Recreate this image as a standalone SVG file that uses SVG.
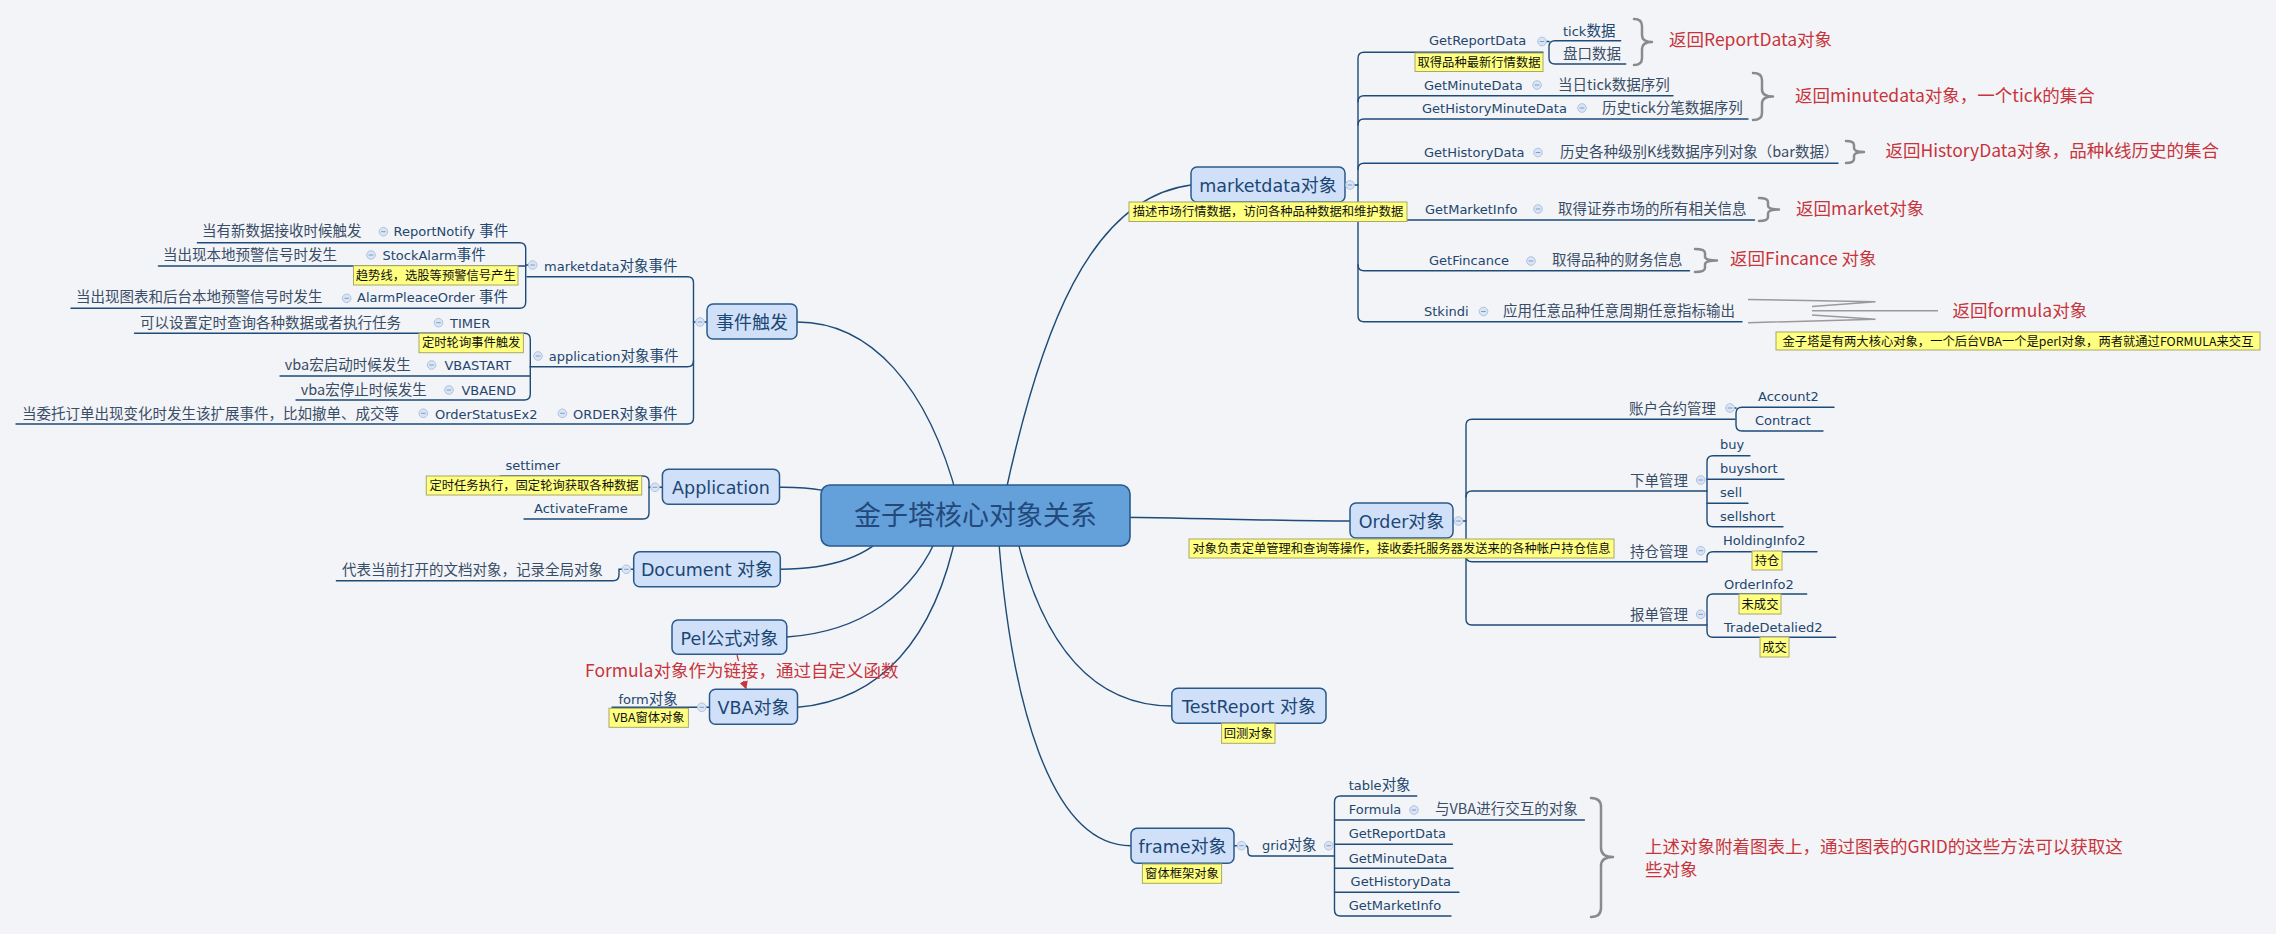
<svg xmlns="http://www.w3.org/2000/svg" width="2276" height="934" viewBox="0 0 2276 934">
<style>
.bg{fill:#f2f4f7}
.ln{fill:none;stroke:#1e4b78;stroke-width:1.4;stroke-linecap:round}
.box{fill:#cfe0f8;stroke:#2a5a8c;stroke-width:1.5}
.ctr{fill:#64a0da;stroke:#2a5a8c;stroke-width:1.6}
.m{font-family:"DejaVu Sans","Noto Sans CJK SC",sans-serif;font-size:13px;fill:#24466e}
.c{font-family:"Noto Sans CJK SC",sans-serif;font-size:14.5px}
.d{font-family:"Noto Sans CJK SC",sans-serif;font-size:14.5px;fill:#3a4d66}
.nt{font-family:"DejaVu Sans","Noto Sans CJK SC",sans-serif;font-size:17.5px;fill:#1c4674;text-anchor:middle}
.nc{font-family:"Noto Sans CJK SC",sans-serif;font-size:18px}
.title{font-family:"Noto Sans CJK SC",sans-serif;font-size:27px;fill:#23497a;text-anchor:middle}
.r{font-family:"Noto Sans CJK SC",sans-serif;font-size:17.5px;fill:#c8343c}
.yn{fill:#ffff80;stroke:#a8a86a;stroke-width:1}
.yt{font-family:"Noto Sans CJK SC",sans-serif;font-size:12.3px;fill:#111;text-anchor:middle}
.br{fill:none;stroke:#8a8a8a;stroke-width:2.5;stroke-linecap:round;stroke-linejoin:round}
.sq{fill:none;stroke:#9a9a9a;stroke-width:1.5}
.rl{fill:none;stroke:#c8343c;stroke-width:1.2}
</style>
<defs>
<g id="col"><circle r="4.3" fill="#d9e5f5" stroke="#aec3e0" stroke-width="1"/><path d="M-2.3 0H2.3" stroke="#7f9cc6" stroke-width="1"/></g>
<marker id="arr" viewBox="0 0 10 10" refX="8" refY="5" markerWidth="7" markerHeight="7" orient="auto"><path d="M0,0 L10,5 L0,10 z" fill="#c8343c"/></marker>
</defs>
<rect class="bg" x="0" y="0" width="2276" height="934"/>

<g id="connectors">
<!-- central to main topics -->
<path class="ln" d="M797,322 C870,322 928,385 958,500"/>
<path class="ln" d="M1004,500 C1040,330 1090,198 1191,185"/>
<path class="ln" d="M779.5,487.3 C810,487 835,490 870,505"/>
<path class="ln" d="M780.3,569.3 C835,569 870,555 890,530"/>
<path class="ln" d="M786.8,637 C860,632 915,595 940,530"/>
<path class="ln" d="M797.5,707.3 C880,700 935,640 957,530"/>
<path class="ln" d="M1131,845.7 C1050,846 1010,700 998,530"/>
<path class="ln" d="M1171.8,706 C1090,706 1040,640 1015,530"/>
<path class="ln" d="M1100,517 C1200,518 1280,521 1350,521"/>

<!-- events subtree -->
<path class="ln" d="M707,322 H704.3 M695.7,322 H693.5"/>
<path class="ln" d="M527,276.7 H687.5 Q693.5,276.7 693.5,282.7 V418 Q693.5,424 687.5,424 H16"/>
<path class="ln" d="M693.5,360.7 Q693.5,366.7 687.5,366.7 H530"/>
<path class="ln" d="M197.4,242.7 H519.7 Q525.7,242.7 525.7,248.7 V302.3 Q525.7,308.3 519.7,308.3 H71"/>
<path class="ln" d="M525.7,266 H158.4 M525.7,265 H528.3"/>
<path class="ln" d="M134.5,333.3 H524.3 Q530.3,333.3 530.3,339.3 V394 Q530.3,400 524.3,400 H296"/>
<path class="ln" d="M530.3,376 H280"/>

<!-- application -->
<path class="ln" d="M662.4,487.3 H659.3 M650.7,487.3 H649"/>
<path class="ln" d="M500,476 H643 Q649,476 649,482 V513 Q649,519 643,519 H524"/>
<!-- document -->
<path class="ln" d="M633.7,569.3 H630.7"/>
<path class="ln" d="M336.4,580.7 H613 Q619,580.7 619,574.7 V569.3 H622.1"/>
<!-- vba -->
<path class="ln" d="M709.5,707.3 H706.1 M697.5,707.3 H612"/>

<!-- marketdata subtree -->
<path class="ln" d="M1345,185 H1345.7 M1354.3,185 H1358"/>
<path class="ln" d="M1543,52.3 H1364 Q1358,52.3 1358,58.3 V315.7 Q1358,321.7 1364,321.7 H1742"/>
<path class="ln" d="M1358,101.7 Q1358,95.7 1364,95.7 H1673"/>
<path class="ln" d="M1358,125 Q1358,119 1364,119 H1748"/>
<path class="ln" d="M1358,169.3 Q1358,163.3 1364,163.3 H1838"/>
<path class="ln" d="M1358,214 Q1358,220 1364,220 H1754.5"/>
<path class="ln" d="M1358,264.7 Q1358,270.7 1364,270.7 H1689.5"/>
<path class="ln" d="M1546.3,41.5 H1549 M1620.7,40.7 H1555 Q1549,40.7 1549,46.7 V58 Q1549,64 1555,64 H1625.7"/>

<!-- order subtree -->
<path class="ln" d="M1453,521 H1454.2 M1462.8,521 H1466"/>
<path class="ln" d="M1735,419.3 H1472 Q1466,419.3 1466,425.3 V619 Q1466,625 1472,625 H1707"/>
<path class="ln" d="M1466,497 Q1466,491 1472,491 H1707"/>
<path class="ln" d="M1466,555.7 Q1466,561.7 1472,561.7 H1707"/>
<path class="ln" d="M1734.3,408 H1736 M1834,407.3 H1742 Q1736,407.3 1736,413.3 V425 Q1736,431 1742,431 H1823"/>
<path class="ln" d="M1750,455.7 H1713 Q1707,455.7 1707,461.7 V520.7 Q1707,526.7 1713,526.7 H1783"/>
<path class="ln" d="M1707,479.3 H1784 M1707,503.3 H1748"/>
<path class="ln" d="M1707,561.7 V557.7 Q1707,551.7 1713,551.7 H1817"/>
<path class="ln" d="M1806.7,594 H1713 Q1707,594 1707,600 V631.3 Q1707,637.3 1713,637.3 H1835.7"/>

<!-- frame subtree -->
<path class="ln" d="M1234,845.7 H1237.2 M1245.8,845.7 Q1248,845.7 1248,850 V852 Q1248,856 1252,856 H1334.5"/>
<path class="ln" d="M1416.8,796 H1340.5 Q1334.5,796 1334.5,802 V910 Q1334.5,916 1340.5,916 H1451"/>
<path class="ln" d="M1334.5,820 H1584.4 M1334.5,844.3 H1452.4 M1334.5,868.3 H1453 M1334.5,892.3 H1459"/>

<!-- relationship Pel -> VBA -->
<path class="rl" d="M737,655 L738.6,661"/>
<path class="rl" d="M743.5,681 L745.8,688" marker-end="url(#arr)"/>
</g>

<g id="braces">
<path class="br" d="M1634,19 Q1642,19 1642,26 L1642,35 Q1642,42 1652,42 Q1642,42 1642,49 L1642,58 Q1642,65 1634,65"/>
<path class="br" d="M1753,73 Q1762,73 1762,80 L1762,89.5 Q1762,96.5 1773,96.5 Q1762,96.5 1762,103.5 L1762,113 Q1762,120 1753,120"/>
<path class="br" d="M1846,141 Q1854,141 1854,145 L1854,148 Q1854,152 1864,152 Q1854,152 1854,156 L1854,159 Q1854,163 1846,163"/>
<path class="br" d="M1759,198 Q1768,198 1768,202 L1768,205.5 Q1768,209.5 1779,209.5 Q1768,209.5 1768,213.5 L1768,217 Q1768,221 1759,221"/>
<path class="br" d="M1695,249 Q1705,249 1705,253 L1705,256.5 Q1705,260.5 1717,260.5 Q1705,260.5 1705,264.5 L1705,268 Q1705,272 1695,272"/>
<path class="br" d="M1591,798 Q1601,798 1601,807 L1601,848 Q1601,857 1613,857 Q1601,857 1601,866 L1601,908 Q1601,917 1591,917"/>
<path class="sq" d="M1748,299.5 L1875.5,301.8 L1812,306.5 M1812,310.7 L1938,310.7 M1812,315 L1875.5,319.3 L1748,322.7"/>
</g>

<g id="central">
<rect class="ctr" x="821" y="485" width="309" height="61" rx="9"/>
<text class="title" x="975.5" y="525">金子塔核心对象关系</text>
</g>

<g id="n-events">
<rect class="box" x="707" y="304" width="90" height="35" rx="6"/>
<text class="nt" x="752" y="328.5"><tspan class="nc">事件触发</tspan></text>
<use href="#col" x="700" y="322"/>
</g>
<g id="n-md-events">
<text class="m" x="544" y="271">marketdata<tspan class="c">对象事件</tspan></text>
<use href="#col" x="532.6" y="265"/>
</g>
<g id="n-reportnotify">
<text class="m" x="393.5" y="236">ReportNotify <tspan class="c">事件</tspan></text>
<use href="#col" x="383.4" y="231.7"/>
<text class="d" x="202" y="236">当有新数据接收时候触发</text>
</g>
<g id="n-stockalarm">
<text class="m" x="382.5" y="260">StockAlarm<tspan class="c">事件</tspan></text>
<use href="#col" x="371" y="255"/>
<text class="d" x="163" y="260">当出现本地预警信号时发生</text>
<rect class="yn" x="353.5" y="265.7" width="164.5" height="19.3"/>
<text class="yt" x="435.75" y="279.8">趋势线，选股等预警信号产生</text>
</g>
<g id="n-alarmorder">
<text class="m" x="357" y="302">AlarmPleaceOrder <tspan class="c">事件</tspan></text>
<use href="#col" x="346.7" y="298.3"/>
<text class="d" x="76" y="302">当出现图表和后台本地预警信号时发生</text>
</g>
<g id="n-app-events">
<text class="m" x="548.7" y="361">application<tspan class="c">对象事件</tspan></text>
<use href="#col" x="538" y="356"/>
</g>
<g id="n-timer">
<text class="m" x="450" y="327.5">TIMER</text>
<use href="#col" x="438.5" y="322.7"/>
<text class="d" x="140" y="327.5">可以设置定时查询各种数据或者执行任务</text>
<rect class="yn" x="419" y="333.3" width="104.4" height="19.4"/>
<text class="yt" x="471.2" y="347.4">定时轮询事件触发</text>
</g>
<g id="n-vbastart">
<text class="m" x="444.4" y="370">VBASTART</text>
<use href="#col" x="431.6" y="365"/>
<text class="d" x="284.7" y="370">vba宏启动时候发生</text>
</g>
<g id="n-vbaend">
<text class="m" x="461.4" y="394.5">VBAEND</text>
<use href="#col" x="449" y="390"/>
<text class="d" x="300.7" y="394.5">vba宏停止时候发生</text>
</g>
<g id="n-order-events">
<text class="m" x="573" y="418.5">ORDER<tspan class="c">对象事件</tspan></text>
<use href="#col" x="562.4" y="413.3"/>
<text class="m" x="435" y="418.5">OrderStatusEx2</text>
<use href="#col" x="423.3" y="413.3"/>
<text class="d" x="22" y="418.5">当委托订单出现变化时发生该扩展事件，比如撤单、成交等</text>
</g>

<g id="n-application">
<rect class="box" x="662.4" y="469.3" width="117.1" height="35" rx="6"/>
<text class="nt" x="721" y="493.5">Application</text>
<use href="#col" x="655" y="487.3"/>
<text class="m" x="505.5" y="469.5">settimer</text>
<rect class="yn" x="426.3" y="476" width="215.4" height="19"/>
<text class="yt" x="534" y="490">定时任务执行，固定轮询获取各种数据</text>
<text class="m" x="534" y="513">ActivateFrame</text>
</g>

<g id="n-document">
<rect class="box" x="633.7" y="551.7" width="146.6" height="35" rx="6"/>
<text class="nt" x="707" y="576">Document <tspan class="nc">对象</tspan></text>
<use href="#col" x="626.4" y="569.3"/>
<text class="d" x="342" y="575">代表当前打开的文档对象，记录全局对象</text>
</g>

<g id="n-pel">
<rect class="box" x="672" y="620" width="114.8" height="34.3" rx="6"/>
<text class="nt" x="729.4" y="644.5">Pel<tspan class="nc">公式对象</tspan></text>
</g>

<g id="rel-label">
<text class="r" x="585" y="677">Formula对象作为链接，通过自定义函数</text>
</g>

<g id="n-vba">
<rect class="box" x="709.5" y="689.3" width="88" height="35" rx="6"/>
<text class="nt" x="753.5" y="713.5">VBA<tspan class="nc">对象</tspan></text>
<use href="#col" x="701.8" y="707.3"/>
<text class="m" x="618.4" y="703.5">form<tspan class="c">对象</tspan></text>
<rect class="yn" x="609" y="708.3" width="79.4" height="19"/>
<text class="yt" x="648.7" y="722.3">VBA窗体对象</text>
</g>

<g id="n-marketdata">
<rect class="box" x="1191" y="167" width="154" height="35" rx="6"/>
<text class="nt" x="1268" y="191.5">marketdata<tspan class="nc">对象</tspan></text>
<use href="#col" x="1350" y="185"/>
<rect class="yn" x="1129" y="202" width="278" height="19.5"/>
<text class="yt" x="1268" y="216">描述市场行情数据，访问各种品种数据和维护数据</text>
</g>
<g id="n-getreportdata">
<text class="m" x="1429" y="45">GetReportData</text>
<use href="#col" x="1542" y="41.5"/>
<rect class="yn" x="1415" y="53" width="128" height="18.5"/>
<text class="yt" x="1479" y="66.5">取得品种最新行情数据</text>
<text class="m" x="1563" y="35.5">tick<tspan class="c">数据</tspan></text>
<text class="d" x="1563" y="59">盘口数据</text>
<text class="r" x="1669" y="46">返回ReportData对象</text>
</g>
<g id="n-getminutedata">
<text class="m" x="1424" y="89.5">GetMinuteData</text>
<use href="#col" x="1537" y="85"/>
<text class="d" x="1558" y="89.5">当日tick数据序列</text>
</g>
<g id="n-gethistoryminutedata">
<text class="m" x="1422" y="113">GetHistoryMinuteData</text>
<use href="#col" x="1582" y="108"/>
<text class="d" x="1602" y="113">历史tick分笔数据序列</text>
<text class="r" x="1795" y="102">返回minutedata对象，一个tick的集合</text>
</g>
<g id="n-gethistorydata">
<text class="m" x="1424" y="157">GetHistoryData</text>
<use href="#col" x="1538" y="152.5"/>
<text class="d" x="1560" y="157">历史各种级别K线数据序列对象（bar数据）</text>
<text class="r" x="1885.5" y="157">返回HistoryData对象，品种k线历史的集合</text>
</g>
<g id="n-getmarketinfo">
<text class="m" x="1425" y="214">GetMarketInfo</text>
<use href="#col" x="1538" y="209"/>
<text class="d" x="1558" y="214">取得证券市场的所有相关信息</text>
<text class="r" x="1796" y="215">返回market对象</text>
</g>
<g id="n-getfincance">
<text class="m" x="1429" y="265">GetFincance</text>
<use href="#col" x="1531" y="261"/>
<text class="d" x="1552" y="265">取得品种的财务信息</text>
<text class="r" x="1730" y="265">返回Fincance 对象</text>
</g>
<g id="n-stkindi">
<text class="m" x="1424" y="316">Stkindi</text>
<use href="#col" x="1483.5" y="311.5"/>
<text class="d" x="1503" y="316">应用任意品种任意周期任意指标输出</text>
<text class="r" x="1952.6" y="317">返回formula对象</text>
<rect class="yn" x="1776" y="332" width="484" height="18"/>
<text class="yt" x="2018" y="345.5">金子塔是有两大核心对象，一个后台VBA一个是perl对象，两者就通过FORMULA来交互</text>
</g>

<g id="n-order">
<rect class="box" x="1350" y="503" width="103" height="35" rx="6"/>
<text class="nt" x="1401.5" y="527.5">Order<tspan class="nc">对象</tspan></text>
<use href="#col" x="1458.5" y="521"/>
<rect class="yn" x="1189" y="539" width="425" height="19"/>
<text class="yt" x="1401.5" y="553">对象负责定单管理和查询等操作，接收委托服务器发送来的各种帐户持仓信息</text>
</g>
<g id="n-account">
<text class="d" x="1629" y="414">账户合约管理</text>
<use href="#col" x="1730" y="408"/>
<text class="m" x="1758" y="401">Account2</text>
<text class="m" x="1755" y="425">Contract</text>
</g>
<g id="n-placeorder">
<text class="d" x="1630" y="486">下单管理</text>
<use href="#col" x="1700.7" y="480"/>
<text class="m" x="1720" y="449">buy</text>
<text class="m" x="1720" y="472.5">buyshort</text>
<text class="m" x="1720" y="497">sell</text>
<text class="m" x="1720" y="521">sellshort</text>
</g>
<g id="n-holding">
<text class="d" x="1630" y="556.5">持仓管理</text>
<use href="#col" x="1700.7" y="550.7"/>
<text class="m" x="1723" y="545">HoldingInfo2</text>
<rect class="yn" x="1752" y="551" width="30" height="19"/>
<text class="yt" x="1767" y="565">持仓</text>
</g>
<g id="n-report">
<text class="d" x="1630" y="620">报单管理</text>
<use href="#col" x="1700.7" y="614.3"/>
<text class="m" x="1724" y="588.5">OrderInfo2</text>
<rect class="yn" x="1739" y="594" width="42" height="20"/>
<text class="yt" x="1760" y="608.5">未成交</text>
<text class="m" x="1724" y="631.5">TradeDetalied2</text>
<rect class="yn" x="1760" y="637" width="29" height="20"/>
<text class="yt" x="1774.5" y="651.5">成交</text>
</g>

<g id="n-testreport">
<rect class="box" x="1171.8" y="688.3" width="154.2" height="35" rx="6"/>
<text class="nt" x="1249" y="712.5">TestReport <tspan class="nc">对象</tspan></text>
<rect class="yn" x="1221.6" y="723.3" width="53.4" height="20"/>
<text class="yt" x="1248.3" y="737.8">回测对象</text>
</g>

<g id="n-frame">
<rect class="box" x="1131" y="828.3" width="103" height="35" rx="6"/>
<text class="nt" x="1182.5" y="852.5">frame<tspan class="nc">对象</tspan></text>
<use href="#col" x="1241.5" y="845.7"/>
<rect class="yn" x="1142.4" y="864" width="79.2" height="19.3"/>
<text class="yt" x="1182" y="878">窗体框架对象</text>
</g>
<g id="n-grid">
<text class="m" x="1262" y="850">grid<tspan class="c">对象</tspan></text>
<use href="#col" x="1328.8" y="845.7"/>
<text class="m" x="1348.7" y="790">table<tspan class="c">对象</tspan></text>
<text class="m" x="1348.7" y="814">Formula</text>
<use href="#col" x="1414" y="810"/>
<text class="d" x="1435" y="814">与VBA进行交互的对象</text>
<text class="m" x="1348.7" y="838">GetReportData</text>
<text class="m" x="1348.7" y="862.5">GetMinuteData</text>
<text class="m" x="1350.6" y="886">GetHistoryData</text>
<text class="m" x="1348.7" y="910">GetMarketInfo</text>
<text class="r" x="1645" y="853">上述对象附着图表上，通过图表的GRID的这些方法可以获取这</text>
<text class="r" x="1645" y="876">些对象</text>
</g>
</svg>
